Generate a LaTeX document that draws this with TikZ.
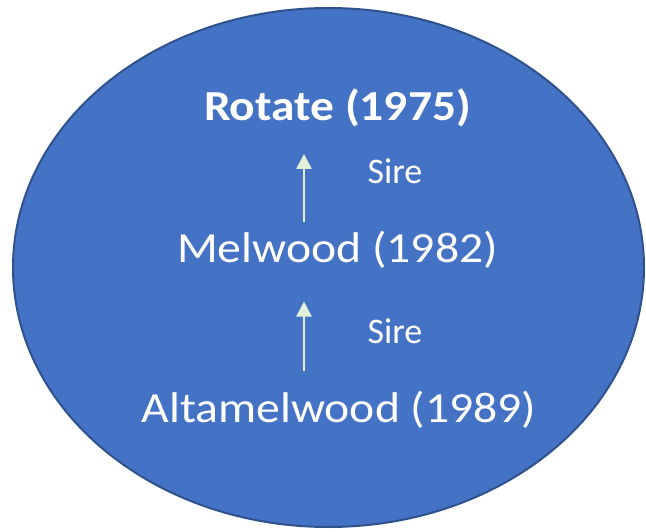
\documentclass[tikz,border=0pt]{standalone}
\usepackage{fontspec}
\setmainfont{Carlito}
\usetikzlibrary{arrows.meta,shapes.geometric}
\definecolor{fillblue}{RGB}{68,114,196}
\definecolor{edgeblue}{RGB}{47,82,143}
\definecolor{arrowgreen}{RGB}{226,240,217}
\newcommand{\squish}[1]{\scalebox{1}[0.9]{#1}}
\tikzset{
  lbl/.style={text=white, anchor=base, inner sep=0pt},
  sire/.style={draw=arrowgreen, line width=2.6pt, -{Triangle[length=15pt,width=15pt]}},
}
\begin{document}
\begin{tikzpicture}[x=1pt,y=-1pt]
\useasboundingbox (0,0) rectangle (646,532);
\node[draw=edgeblue, fill=fillblue, line width=2pt, ellipse, minimum width=631pt, minimum height=519pt, inner sep=0pt] (oval) at (328.5,267.5) {};
\node[lbl, font=\bfseries\fontsize{47.5}{50}\selectfont] (rot) at (337.5,120.5) {\squish{Rotate (1975)}};
\node[lbl, font=\fontsize{47.7}{50}\selectfont] (mel) at (337.5,262) {\squish{Melwood (1982)}};
\node[lbl, font=\fontsize{47.7}{50}\selectfont] (alt) at (339,422.5) {\squish{Altamelwood (1989)}};
\node[lbl, font=\fontsize{36}{40}\selectfont] (s1) at (395,183.3) {Sire};
\node[lbl, font=\fontsize{36}{40}\selectfont] (s2) at (395,343.5) {Sire};
\coordinate (a1b) at (304,222.5);
\coordinate (a1t) at (304,154);
\coordinate (a2b) at (304,370.5);
\coordinate (a2t) at (304,301.5);
\draw[sire] (a1b) -- (a1t);
\draw[sire] (a2b) -- (a2t);
\end{tikzpicture}
\end{document}
